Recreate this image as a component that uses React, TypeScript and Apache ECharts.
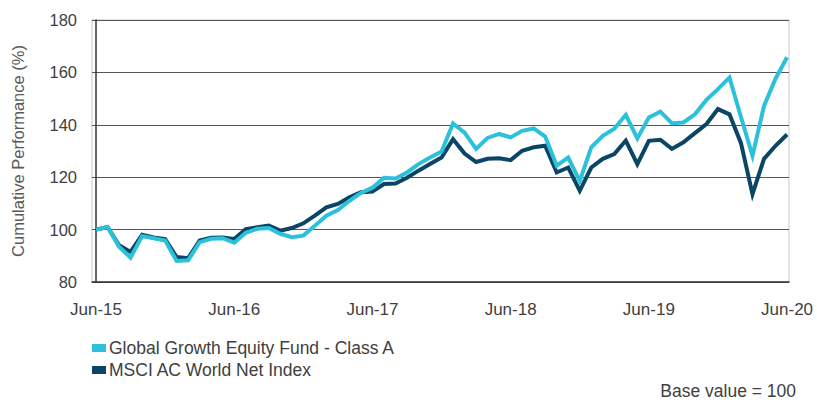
import React, { useEffect, useRef } from "react";
import * as echarts from "echarts";

const tickLabels = ["Jun-15", "Jun-16", "Jun-17", "Jun-18", "Jun-19", "Jun-20"];
const tickPositions = [0, 12, 24, 36, 48, 60];

const fundName = "Global Growth Equity Fund - Class A";
const indexName = "MSCI AC World Net Index";

const fundValues = [
  100, 101, 93.5, 89.3, 97.5, 96.7, 95.8, 88, 88.3, 95.2, 96.5, 96.7,
  95, 98.8, 100.3, 100.6, 98.4, 97.1, 97.7, 101.5, 105.3, 107.5, 111, 114,
  116, 119.8, 119.5, 121.8, 125, 127.5, 129.8, 140.5, 137, 130.8, 135, 136.5,
  135.2, 137.7, 138.6, 135.5, 124.4, 127.5, 118.5, 131.4, 135.8, 138.5, 143.8, 134.8,
  142.8, 145, 140.6, 140.9, 144, 149.5, 153.6, 158, 143, 128.2, 147.2, 157.6,
  165.8,
];

const indexValues = [
  100, 101, 94, 91.5, 98, 97, 96.4, 89.5, 89.1, 95.8, 96.9, 97,
  96.4, 100.2, 100.9, 101.5, 99.6, 100.6, 102.4, 105.3, 108.5, 109.8, 112.3, 114.3,
  114.5, 117.4, 117.6, 119.8, 122.5, 125, 127.5, 134.5, 129, 125.8, 127, 127.2,
  126.5, 130.1, 131.4, 132, 121.8, 123.7, 114.8, 123.7, 127, 128.8, 134, 125,
  133.9, 134.3, 130.8, 133.3, 136.8, 140.3, 146, 144, 133, 113.5, 127, 132,
  136.3,
];

const FUND_COLOR = "#2cc1db";
const INDEX_COLOR = "#0a4565";
const FONT = "Liberation Sans";

export default function App() {
  const ref = useRef<HTMLDivElement>(null);

  useEffect(() => {
    if (!ref.current) return;
    const chart = echarts.init(ref.current, undefined, { renderer: "svg" });
    const toPairs = (arr: number[]) => arr.map((v, i) => [i, v]);
    chart.setOption({
      animation: false,
      backgroundColor: "#ffffff",
      grid: {
        left: 92,
        right: 28,
        top: 20,
        bottom: 118,
        show: true,
        borderColor: "#c8c8c8",
        borderWidth: 1,
      },
      legend: {
        orient: "vertical",
        left: 92,
        top: 339,
        padding: 0,
        itemWidth: 14,
        itemHeight: 8,
        itemGap: 4,
        icon: "rect",
        data: [fundName, indexName],
        textStyle: {
          fontFamily: FONT,
          fontSize: 17.5,
          lineHeight: 18,
          color: "#404040",
          padding: [0, 0, 0, -2],
        },
      },
      xAxis: {
        type: "value",
        min: -0.35,
        max: 60.17,
        splitLine: { show: false },
        axisTick: { show: false },
        axisLine: { show: true, lineStyle: { color: "#333333", width: 1.5 } },
        axisLabel: {
          customValues: tickPositions,
          formatter: (v: number) => {
            const idx = tickPositions.indexOf(Math.round(v));
            return idx >= 0 ? tickLabels[idx] : "";
          },
          fontFamily: FONT,
          fontSize: 17,
          color: "#404040",
          margin: 19,
        },
      },
      yAxis: {
        type: "value",
        min: 80,
        max: 180,
        interval: 20,
        name: "Cumulative Performance (%)",
        nameLocation: "middle",
        nameGap: 66,
        nameTextStyle: { fontFamily: FONT, fontSize: 16.5, color: "#595959" },
        axisLine: { show: true, lineStyle: { color: "#333333", width: 1.5 } },
        axisTick: { show: false },
        splitLine: { show: true, lineStyle: { color: "#555555", width: 1 } },
        axisLabel: {
          fontFamily: FONT,
          fontSize: 16.5,
          color: "#404040",
          margin: 15,
        },
      },
      series: [
        {
          name: indexName,
          type: "line",
          data: toPairs(indexValues),
          showSymbol: false,
          symbol: "none",
          lineStyle: { color: INDEX_COLOR, width: 4, join: "miter" },
          itemStyle: { color: INDEX_COLOR },
          z: 2,
        },
        {
          name: fundName,
          type: "line",
          data: toPairs(fundValues),
          showSymbol: false,
          symbol: "none",
          lineStyle: { color: FUND_COLOR, width: 4, join: "miter" },
          itemStyle: { color: FUND_COLOR },
          z: 3,
        },
      ],
      graphic: [
        {
          type: "text",
          right: 21,
          top: 382,
          style: {
            text: "Base value = 100",
            fontFamily: FONT,
            fontSize: 17.5,
            fill: "#404040",
          },
        },
      ],
    });
    return () => chart.dispose();
  }, []);

  return (
    <div
      ref={ref}
      style={{ width: 817, height: 400, position: "fixed", left: 0, top: 0 }}
    />
  );
}
